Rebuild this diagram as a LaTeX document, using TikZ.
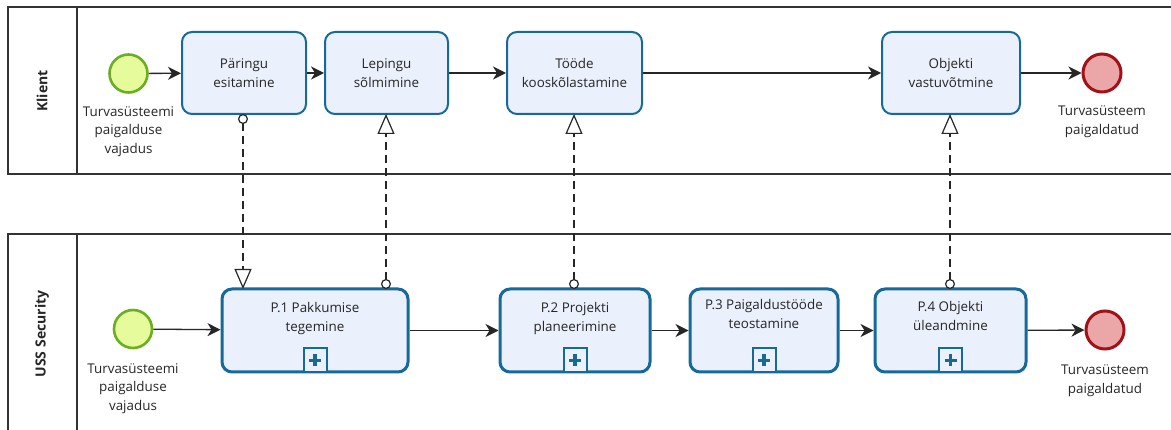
\documentclass[tikz,border=0pt]{standalone}
\usepackage{fontspec}
\setmainfont{Open Sans}
\usetikzlibrary{arrows.meta}
\definecolor{taskfill}{HTML}{EAF0FC}
\definecolor{taskdraw}{HTML}{17699A}
\definecolor{startfill}{HTML}{E6FB9C}
\definecolor{startdraw}{HTML}{6CAE22}
\definecolor{endfill}{HTML}{EBA6A8}
\definecolor{enddraw}{HTML}{A01217}
\definecolor{pooldraw}{HTML}{333333}
\tikzset{
  pool/.style={draw=pooldraw, line width=1.3pt},
  task/.style={draw=taskdraw, fill=taskfill, line width=2pt, rounded corners=10pt,
    align=center, font=\fontsize{13.4}{19}\selectfont, inner sep=0pt, text=black!85},
  subtask/.style={task, line width=3pt},
  startev/.style={circle, draw=startdraw, fill=startfill, line width=2.6pt, minimum size=38pt, inner sep=0pt},
  endev/.style={circle, draw=enddraw, fill=endfill, line width=3pt, minimum size=38pt, inner sep=0pt},
  evlabel/.style={align=center, font=\fontsize{13.4}{18.5}\selectfont, inner sep=0pt, anchor=north, text=black!85},
  seq/.style={draw=black!85, line width=1.3pt, -{Stealth[length=13pt,width=13pt,inset=4pt]}},
  msg/.style={draw=black!85, line width=1.2pt, dash pattern=on 8pt off 5pt,
    {Circle[open,length=10pt,width=10pt,line width=1.2pt,fill=white]}-{Triangle[open,length=20pt,width=17pt,line width=1.2pt,fill=white]}},
  lanelabel/.style={rotate=90, font=\bfseries\fontsize{14}{16}\selectfont, text=black!85},
  plusbox/.style={draw=taskdraw, fill=taskfill, line width=2pt, minimum width=23pt, minimum height=24pt, inner sep=0pt},
}
\begin{document}
\begin{tikzpicture}[x=1pt,y=-1pt]
\useasboundingbox (0,0) rectangle (1171,430);
% pools
\draw[pool] (8,7) rectangle (1180,174);
\draw[pool] (77,7) -- (77,174);
\draw[pool] (8,234) rectangle (1180,440);
\draw[pool] (77,234) -- (77,440);
\node[lanelabel] (klient) at (42,91) {Klient};
\node[lanelabel] (uss) at (42,334) {USS Security};

% top lane
\node[startev] (s1) at (128.5,73.5) {};
\node[evlabel] (s1l) at (128.5,106) {Turvasüsteemi\\paigalduse\\vajadus};
\node[task, minimum width=124pt, minimum height=82pt] (t1) at (244,73) {Päringu\\esitamine};
\node[task, minimum width=123pt, minimum height=82pt] (t2) at (386.5,73) {Lepingu\\sõlmimine};
\node[task, minimum width=135pt, minimum height=82pt] (t3) at (574.5,73) {Tööde\\kooskõlastamine};
\node[task, minimum width=138pt, minimum height=82pt] (t4) at (951,73) {Objekti\\vastuvõtmine};
\node[endev] (e1) at (1102,73) {};
\node[evlabel] (e1l) at (1102,106) {Turvasüsteem\\paigaldatud};

\draw[seq] (s1) -- (t1);
\draw[seq] (t1) -- (t2);
\draw[seq] (t2) -- (t3);
\draw[seq] (t3) -- (t4);
\draw[seq] (t4) -- (e1);

% bottom lane
\node[startev] (s2) at (133,329) {};
\node[evlabel] (s2l) at (133,363) {Turvasüsteemi\\paigalduse\\vajadus};
\node[subtask, minimum width=186pt, minimum height=83pt, text depth=28pt] (p1) at (315,330.5) {P.1 Pakkumise\\tegemine};
\node[subtask, minimum width=150pt, minimum height=83pt, text depth=28pt] (p2) at (575,330.5) {P.2 Projekti\\planeerimine};
\node[subtask, minimum width=148pt, minimum height=83pt, text depth=34pt] (p3) at (764,330.5) {P.3 Paigaldustööde\\teostamine};
\node[subtask, minimum width=151pt, minimum height=83pt, text depth=30pt] (p4) at (950.5,330.5) {P.4 Objekti\\üleandmine};
\node[endev] (e2) at (1105,330) {};
\node[evlabel] (e2l) at (1105,365) {Turvasüsteem\\paigaldatud};

% subprocess markers
\foreach \n in {p1,p2,p3,p4}{
  \node[plusbox, anchor=south] (\n m) at (\n.south) {};
  \draw[taskdraw, line width=3.6pt] ([yshift=-6pt]\n m.center) -- ([yshift=6pt]\n m.center);
  \draw[taskdraw, line width=3.6pt] ([xshift=-6pt]\n m.center) -- ([xshift=6pt]\n m.center);
}

\draw[seq] (s2) -- (p1);
\draw[seq] (p1) -- (p2);
\draw[seq] (p2) -- (p3);
\draw[seq] (p3) -- (p4);
\draw[seq] (p4) -- (e2);

% message flows
\coordinate (m1a) at (243,114);
\coordinate (m1b) at (243,289);
\coordinate (m2a) at (386,289);
\coordinate (m2b) at (386,114);
\coordinate (m3a) at (574,289);
\coordinate (m3b) at (574,114);
\coordinate (m4a) at (950,289);
\coordinate (m4b) at (950,114);
\draw[msg] (m1a) -- (m1b);
\draw[msg] (m2a) -- (m2b);
\draw[msg] (m3a) -- (m3b);
\draw[msg] (m4a) -- (m4b);
\end{tikzpicture}
\end{document}
